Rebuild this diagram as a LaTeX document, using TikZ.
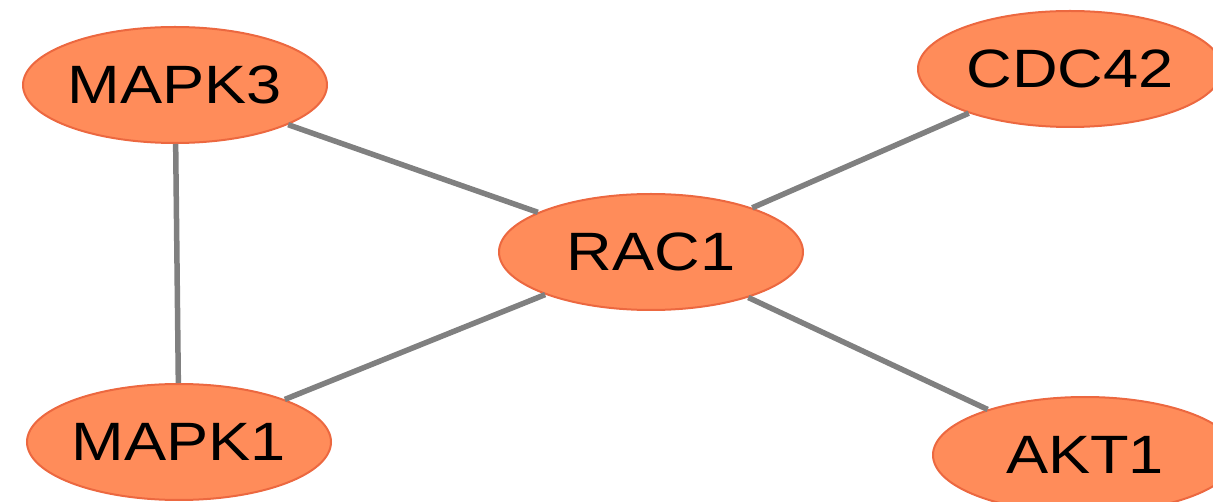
\documentclass[tikz,border=0pt]{standalone}
\usepackage{fontspec}
\newfontfamily\labfont[FakeStretch=1.17]{Liberation Sans}
\usetikzlibrary{shapes.geometric}
\definecolor{nodefill}{RGB}{255,140,90}
\definecolor{nodeline}{RGB}{236,104,64}
\definecolor{edgecol}{RGB}{128,128,128}
\begin{document}
\begin{tikzpicture}[x=1pt,y=-1pt,
  gene/.style={ellipse, fill=nodefill, draw=nodeline, line width=2pt,
    minimum width=304pt, minimum height=116pt, inner sep=0pt,
    font=\labfont\fontsize{54}{60}\selectfont, text=black},
  link/.style={draw=edgecol, line width=5.5pt}]
\useasboundingbox (0,0) rectangle (1213,502);
\node[gene] (mapk3) at (175,85) {MAPK3};
\node[gene] (cdc42) at (1070,69) {CDC42};
\node[gene] (rac1) at (651,252) {RAC1};
\node[gene] (mapk1) at (179,442) {MAPK1};
\node[gene] (akt1) at (1085,455) {AKT1};
\draw[link] (mapk3) -- (mapk1);
\draw[link] (mapk3) -- (rac1);
\draw[link] (mapk1) -- (rac1);
\draw[link] (cdc42) -- (rac1);
\draw[link] (akt1) -- (rac1);
\end{tikzpicture}
\end{document}
